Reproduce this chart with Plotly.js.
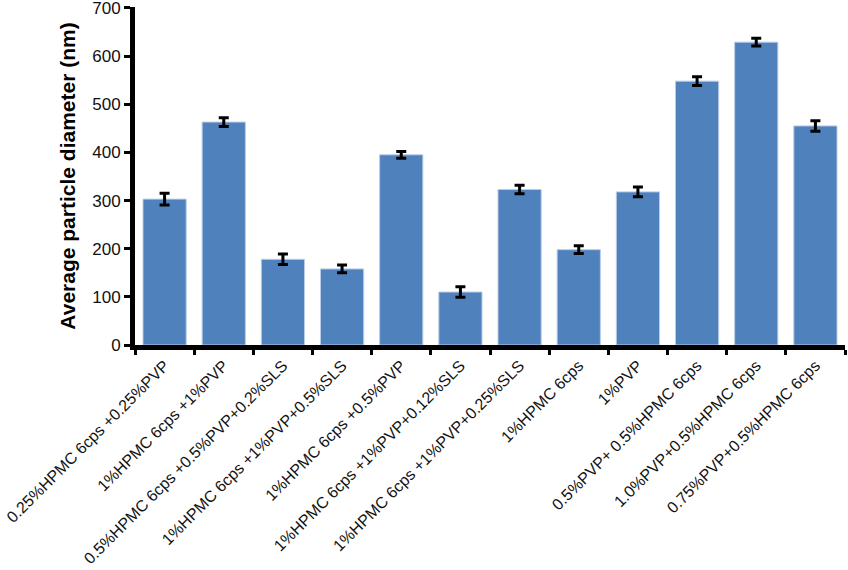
<!DOCTYPE html>
<html>
<head>
<meta charset="utf-8">
<script src="https://cdn.plot.ly/plotly-3.0.1.min.js"></script>
<style>
  body { margin: 0; background: #fff; }
  #plot { width: 848px; height: 570px; }
</style>
</head>
<body>
<div id="plot"></div>
<script>
// formulations on the x axis
const formulations = [
    '0.25%HPMC 6cps +0.25%PVP',
    '1%HPMC 6cps +1%PVP',
    '0.5%HPMC 6cps +0.5%PVP+0.2%SLS',
    '1%HPMC 6cps +1%PVP+0.5%SLS',
    '1%HPMC 6cps +0.5%PVP',
    '1%HPMC 6cps +1%PVP+0.12%SLS',
    '1%HPMC 6cps +1%PVP+0.25%SLS',
    '1%HPMC 6cps',
    '1%PVP',
    '0.5%PVP+ 0.5%HPMC 6cps',
    '1.0%PVP+0.5%HPMC 6cps',
    '0.75%PVP+0.5%HPMC 6cps'
];

// mean particle size (nm) and its error
const diameter = [303, 463, 178, 158, 395, 110, 323, 198, 318, 548, 629, 455];
const diameterErr = [12, 9, 11, 8, 7, 11, 9, 8, 10, 9, 8, 11];

const yTicks = [0, 100, 200, 300, 400, 500, 600, 700];

const trace = {
    x: formulations,
    y: diameter,
    type: 'bar',
    marker: {
        color: '#4F81BD',
        line: { color: '#B9CDE5', width: 1 }
    },
    error_y: {
        type: 'data',
        array: diameterErr,
        visible: true,
        color: '#000000',
        thickness: 3,
        width: 5
    },
    hoverinfo: 'x+y'
};

const layout = {
    width: 848,
    height: 570,
    margin: { l: 135, r: 3, t: 7, b: 225 },
    paper_bgcolor: '#ffffff',
    plot_bgcolor: '#ffffff',
    font: { family: 'Liberation Sans, Arial, sans-serif', color: '#000000', size: 17 },
    bargap: 0.27,
    showlegend: false,
    xaxis: {
        type: 'category',
        showline: true,
        linecolor: '#000000',
        linewidth: 5,
        ticks: 'outside',
        tickson: 'boundaries',
        ticklen: 5,
        tickwidth: 3,
        tickcolor: '#000000',
        tickangle: -45,
        tickfont: { size: 16, color: '#111111' },
        showgrid: false,
        zeroline: false
    },
    yaxis: {
        range: [0, 702],
        tickvals: yTicks,
        ticklabeloverflow: 'allow',
        showline: true,
        linecolor: '#000000',
        linewidth: 5,
        ticks: 'outside',
        ticklen: 6,
        tickwidth: 3,
        tickcolor: '#000000',
        tickfont: { size: 17, color: '#111111' },
        showgrid: false,
        zeroline: false,
        title: {
            text: '<b>Average particle diameter (nm)</b>',
            font: { size: 21, color: '#000000' },
            standoff: 12
        }
    }
};

Plotly.newPlot('plot', [trace], layout, { displayModeBar: false, staticPlot: true });
</script>
</body>
</html>
